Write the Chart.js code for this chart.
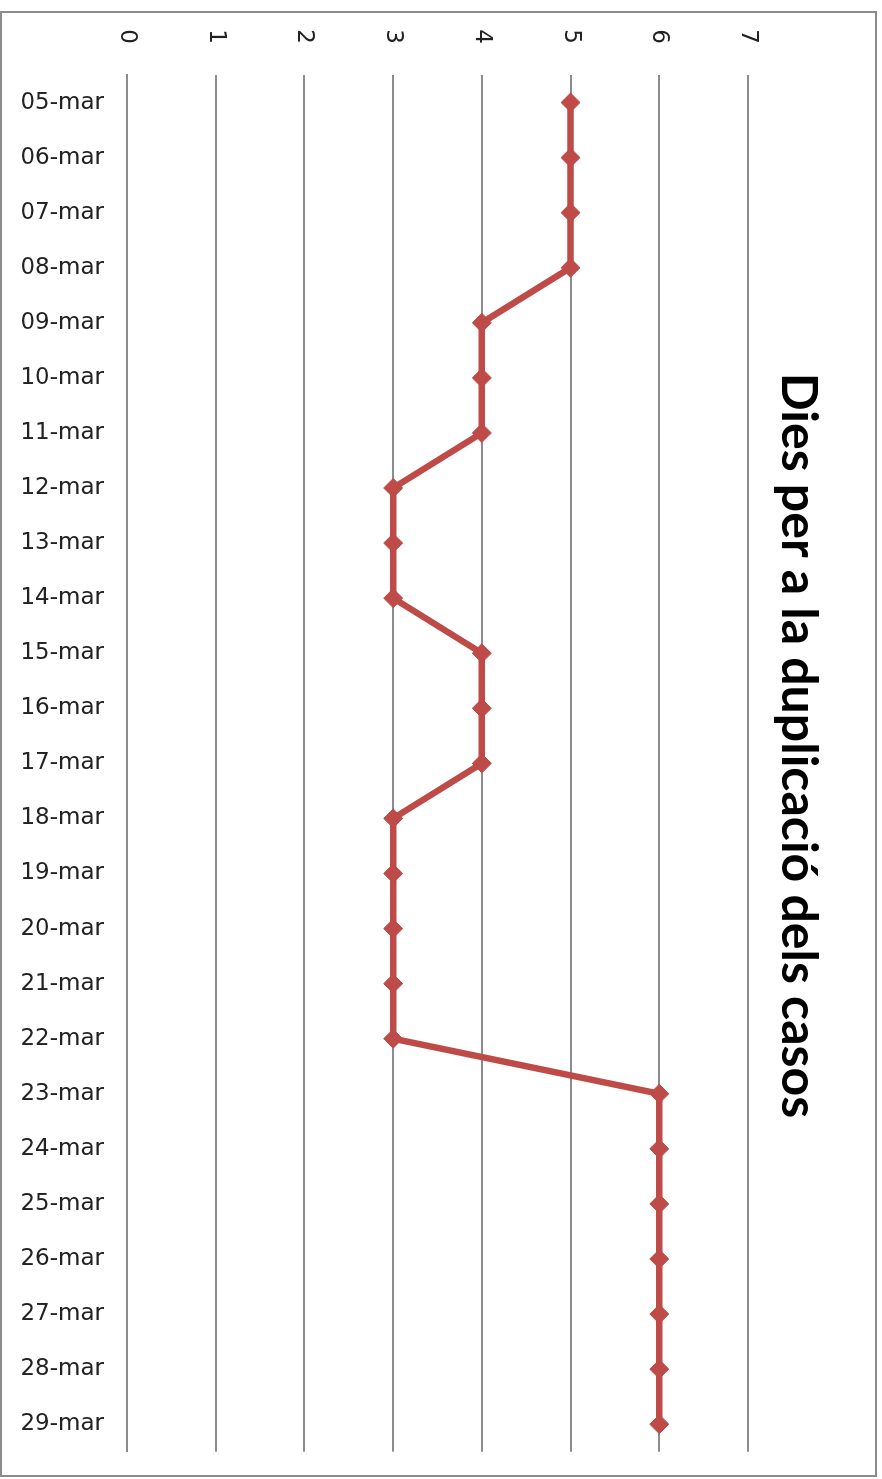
<!DOCTYPE html>
<html>
<head>
<meta charset="utf-8">
<script src="https://cdn.jsdelivr.net/npm/chart.js@4/dist/chart.umd.min.js"></script>
<style>
  html, body { margin: 0; padding: 0; background: #fff; }
  /* el gràfic es dibuixa horitzontal i després es gira 90° */
  #girat {
    position: absolute; left: 0; top: 0;
    width: 1479px; height: 882px;
    transform-origin: 0 0;
    transform: translate(882px, 0) rotate(90deg);
  }
  #marc {
    position: absolute; left: 11px; top: 5px;
    width: 1466px; height: 877px;
    box-sizing: border-box;
    border: 2px solid #8c8c8c;
    background: #fff;
  }
  #marc canvas { display: block; }
</style>
</head>
<body>
<div id="girat">
  <div id="marc"><canvas id="chartDies"></canvas></div>
</div>
<script>
const dies = [
  '05-mar', '06-mar', '07-mar', '08-mar', '09-mar', '10-mar', '11-mar',
  '12-mar', '13-mar', '14-mar', '15-mar', '16-mar', '17-mar', '18-mar',
  '19-mar', '20-mar', '21-mar', '22-mar', '23-mar', '24-mar', '25-mar',
  '26-mar', '27-mar', '28-mar', '29-mar'
];
const diesDuplicacio = [
  5, 5, 5, 5, 4, 4, 4, 3, 3, 3, 4, 4, 4, 3, 3, 3, 3, 3, 6, 6, 6, 6, 6, 6, 6
];
const eixMin = 0;
const eixMax = 7;
const titol = 'Dies per a la duplicació dels casos';

const vermell = '#BE4B48';
const gris = '#8c8c8c';

const ctx = document.getElementById('chartDies');
ctx.width = 1462;
ctx.height = 873;

new Chart(ctx, {
  type: 'line',
  data: {
    labels: dies,
    datasets: [{
      label: titol,
      data: diesDuplicacio,
      borderColor: vermell,
      backgroundColor: vermell,
      borderWidth: 6.5,
      tension: 0,
      pointStyle: 'rectRot',
      pointRadius: 9.5,
      pointBorderWidth: 1,
      pointBackgroundColor: vermell,
      pointBorderColor: vermell
    }]
  },
  options: {
    responsive: false,
    animation: false,
    // el marge esquerre desplaça una mica el títol (les etiquetes de l'eix es retallen si és massa gran)
    layout: { padding: { left: 14, right: 11, top: 0, bottom: 0 } },
    plugins: {
      legend: { display: false },
      tooltip: { enabled: false },
      title: {
        display: true,
        text: titol,
        color: '#000',
        font: { family: 'Lato', size: 50, weight: 'bold', lineHeight: 1.2 },
        padding: { top: 47, bottom: 20 }
      }
    },
    scales: {
      x: {
        offset: true,
        grid: { display: false, drawTicks: false },
        border: { display: true, color: gris, width: 2 },
        ticks: {
          color: '#222',
          font: { family: 'DejaVu Sans', size: 23 },
          minRotation: 90,
          maxRotation: 90,
          padding: 23,
          autoSkip: false
        },
        afterFit: (scale) => { scale.height = 125; }
      },
      y: {
        min: eixMin,
        max: eixMax,
        grid: { color: gris, lineWidth: 2, drawTicks: false },
        border: { display: false },
        ticks: {
          stepSize: 1,
          color: '#222',
          font: { family: 'DejaVu Sans', size: 23 },
          padding: 31
        },
        afterFit: (scale) => { scale.width = 48; }
      }
    }
  }
});
</script>
</body>
</html>
